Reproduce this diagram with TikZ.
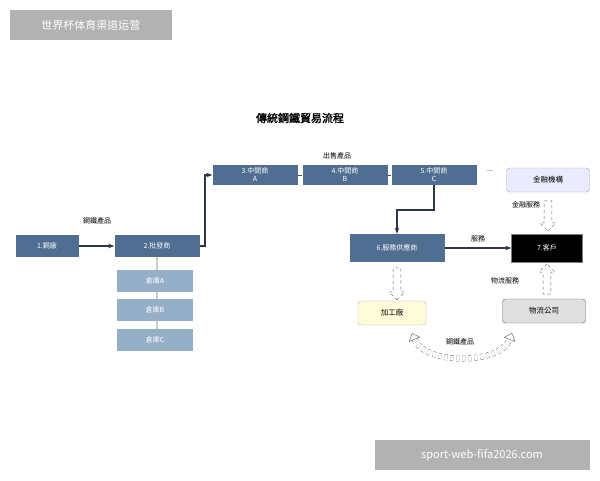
\documentclass[tikz,border=0pt]{standalone}
\usepackage{fontspec}
\setmainfont{Noto Sans CJK TC}
\newfontfamily\boldcjk[FakeBold=2]{Noto Sans CJK TC}
\usetikzlibrary{shapes.arrows,arrows.meta}
\begin{document}
\begin{tikzpicture}[x=1pt,y=-1pt,
  dk/.style={fill={rgb,255:red,80;green,110;blue,145}, text=white, minimum height=22pt, inner sep=1pt, font=\fontsize{7}{8}\selectfont, align=center},
  wh/.style={fill={rgb,255:red,150;green,175;blue,200}, text=white, minimum width=76pt, minimum height=22pt, font=\fontsize{7}{8}\selectfont},
  lbl/.style={font=\fontsize{7}{8}\selectfont},
  rnd/.style={rounded corners=3pt, draw=gray!70, minimum height=24pt, font=\fontsize{7.5}{9}\selectfont},
  ar/.style={draw={rgb,255:red,45;green,55;blue,70}, line width=1.2pt, -{Stealth[length=6pt]}},
  hol/.style={single arrow, draw=gray!70!black, dashed, fill=white, minimum height=32pt, minimum width=16pt, single arrow head extend=4pt, inner sep=3.5pt}]
\useasboundingbox (0,0) rectangle (600,480);
\node[fill=gray!60, text=white, minimum width=162pt, minimum height=30pt, font=\fontsize{11}{12}\selectfont] (wm1) at (91,25) {世界杯体育渠道运营};
\node[fill=gray!60, text=white, minimum width=215pt, minimum height=30pt, font=\fontsize{11}{12}\selectfont] (wm2) at (482,455) {sport-web-fifa2026.com};
\node[font=\fontsize{11}{12}\selectfont\boldcjk] (t) at (300,118) {傳統鋼鐵貿易流程};
\node[dk, minimum width=63pt] (n1) at (47,246) {1.鋼廠};
\node[dk, minimum width=85pt] (n2) at (157,246) {2.批發商};
\draw[gray!40, line width=1.5pt] (n2.south) -- (157,351);
\node[wh] (wa) at (155,281) {倉庫A};
\node[wh] (wb) at (155,310) {倉庫B};
\node[wh] (wc) at (155,340) {倉庫C};
\node[dk, minimum width=85pt, minimum height=20pt] (n3) at (255,175) {3.中間商\\A};
\node[dk, minimum width=85pt, minimum height=20pt] (n4) at (345,175) {4.中間商\\B};
\node[dk, minimum width=85pt, minimum height=20pt] (n5) at (434,175) {5.中間商\\C};
\draw[gray!60!black] (n3) -- (n4) (n4) -- (n5);
\node[lbl] (dots) at (490,171) {...};
\node[lbl] (l1) at (337,156) {出售產品};
\node[lbl] (l2) at (97,221) {鋼鐵產品};
\draw[ar] (n1) -- (n2);
\draw[ar] (n2.east) -- (205,246) -- (205,175) -- (n3.west);
\node[dk, minimum width=95pt, minimum height=28pt] (n6) at (397,248) {6.服務供應商};
\node[fill=black, draw=gray, text=white, minimum width=71pt, minimum height=28pt, font=\fontsize{7}{8}\selectfont] (n7) at (547,248) {7.客戶};
\draw[ar] (n5.south) -- (434,210) -- (397,210) -- (n6.north);
\draw[ar] (n6) -- (n7);
\node[lbl] (l3) at (478,239) {服務};
\node[rnd, fill=blue!8, minimum width=83pt] (fin) at (548,180) {金融機構};
\node[rnd, fill=yellow!15, minimum width=68pt] (fac) at (392,313) {加工廠};
\node[rnd, fill=gray!25, draw=gray!80!black, minimum width=83pt] (log) at (544,311) {物流公司};
\node[lbl] (l4) at (526,205) {金融服務};
\node[lbl] (l5) at (505,281) {物流服務};
\node[lbl] (l6) at (460,342) {鋼鐵產品};
\node[hol, rotate=-90] (h1) at (397,282) {};
\node[hol, rotate=-90, minimum height=30pt] (h2) at (548,214) {};
\node[hol, rotate=90, minimum height=30pt] (h3) at (547,281) {};
\draw[gray!70!black, dashed, double distance=5pt, {Triangle[open,length=7pt,width=12pt]}-{Triangle[open,length=7pt,width=12pt]}] (412,333) .. controls (425,365) and (500,365) .. (512,333);
\end{tikzpicture}
\end{document}
